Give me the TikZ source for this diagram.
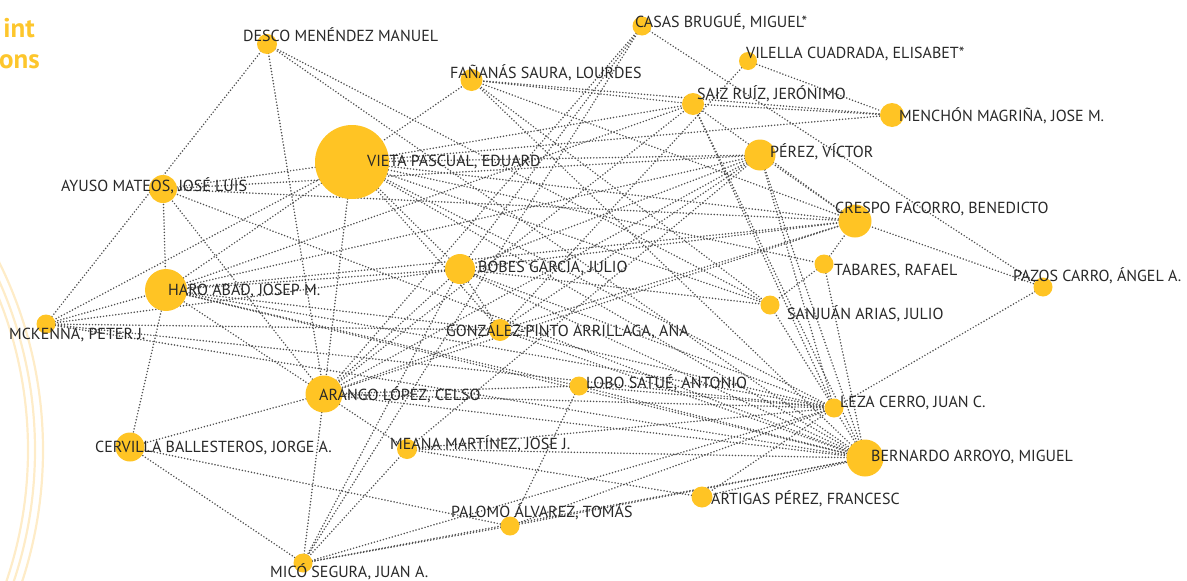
\documentclass[tikz,border=0pt]{standalone}
\usepackage{fontspec}
\setmainfont{PT Sans}
\usetikzlibrary{backgrounds}
\definecolor{nodeyel}{RGB}{255,196,36}
\definecolor{titleyel}{RGB}{253,198,44}
\definecolor{arcyel}{RGB}{254,236,200}
\definecolor{edgegray}{RGB}{78,78,78}
\definecolor{txtgray}{RGB}{40,40,40}
\tikzset{
  dot/.style={circle, fill=nodeyel, draw=none, inner sep=0pt, minimum size=#1},
  lbl/.style={anchor=base west, inner sep=0pt, text=txtgray, font=\fontsize{16}{18}\selectfont},
  edge/.style={edgegray, line width=1.7pt, line cap=round, dash pattern=on 0pt off 3.1pt},
  ttl/.style={anchor=base east, inner sep=0pt, text=titleyel, font=\bfseries\fontsize{27}{29}\selectfont},
  arcline/.style={arcyel, line width=2.2pt}
}
\begin{document}
\begin{tikzpicture}[x=1pt,y=-1pt]
\useasboundingbox (0,0) rectangle (1187,581);
\begin{scope}
\clip (0,0) rectangle (1187,581);
\draw[arcline] (-380,450) circle (423);
\draw[arcline] (-380,450) circle (415);
\draw[arcline] (-380,450) circle (408);
\end{scope}
\node[ttl] (t1) at (35,37) {int};
\node[ttl] (t2) at (40,68) {ons};
% nodes
\node[dot=20pt] (desco) at (267,44) {};
\node[dot=19pt] (casas) at (642,26) {};
\node[dot=18pt] (vilella) at (748,61) {};
\node[dot=22pt] (fananas) at (471.5,80) {};
\node[dot=22pt] (saiz) at (693,104) {};
\node[dot=24pt] (menchon) at (892,115) {};
\node[dot=74pt] (vieta) at (352,162) {};
\node[dot=31pt] (perez) at (760,155) {};
\node[dot=28pt] (ayuso) at (163,189) {};
\node[dot=33pt] (crespo) at (855,221) {};
\node[dot=30pt] (bobes) at (460,269) {};
\node[dot=19pt] (tabares) at (824,264) {};
\node[dot=42pt] (haro) at (166,290) {};
\node[dot=19pt] (pazos) at (1043,287) {};
\node[dot=19pt] (mckenna) at (46,324) {};
\node[dot=19pt] (sanjuan) at (770,305) {};
\node[dot=22pt] (gonzalez) at (500,330) {};
\node[dot=19pt] (lobo) at (579,386) {};
\node[dot=37pt] (arango) at (324,394) {};
\node[dot=19pt] (leza) at (834,408) {};
\node[dot=29pt] (cervilla) at (130,447) {};
\node[dot=20pt] (meana) at (407,449) {};
\node[dot=37pt] (bernardo) at (865,458) {};
\node[dot=21pt] (artigas) at (702,497) {};
\node[dot=19pt] (palomo) at (510,526) {};
\node[dot=19pt] (mico) at (303,563) {};
% edges
\begin{scope}[on background layer]
\foreach \a/\b in {desco/mckenna, desco/arango, desco/sanjuan, desco/bernardo,
casas/pazos, casas/mico, casas/arango, casas/bobes,
vilella/menchon, vilella/gonzalez,
fananas/vieta, fananas/saiz, fananas/crespo, fananas/menchon, fananas/sanjuan, fananas/bernardo,
saiz/vieta, saiz/menchon, saiz/arango, saiz/bernardo, saiz/haro, saiz/crespo, saiz/leza,
menchon/vieta,
vieta/perez, vieta/crespo, vieta/tabares, vieta/sanjuan, vieta/bernardo, vieta/leza, vieta/bobes, vieta/arango, vieta/haro, vieta/ayuso, vieta/mckenna, vieta/gonzalez,
perez/ayuso, perez/haro, perez/bobes, perez/arango, perez/meana, perez/bernardo, perez/crespo, perez/leza,
ayuso/crespo, ayuso/bernardo, ayuso/arango, ayuso/haro,
crespo/pazos, crespo/tabares, crespo/haro, crespo/bobes, crespo/arango,
bobes/sanjuan, bobes/leza, bobes/bernardo, bobes/haro, bobes/arango, bobes/mckenna, bobes/mico, bobes/gonzalez,
tabares/sanjuan, tabares/bernardo,
sanjuan/bernardo,
pazos/leza,
mckenna/haro, mckenna/leza, mckenna/bernardo, mckenna/gonzalez,
gonzalez/arango, gonzalez/haro, gonzalez/bernardo, gonzalez/leza, gonzalez/perez, gonzalez/crespo,
lobo/palomo, lobo/haro, lobo/bernardo, lobo/leza, lobo/arango,
arango/cervilla, arango/meana, arango/leza, arango/bernardo, arango/haro, arango/mico,
cervilla/haro, cervilla/mico, cervilla/palomo,
meana/artigas, meana/mico, meana/bernardo, meana/leza,
artigas/leza, artigas/bernardo,
palomo/leza, palomo/bernardo, palomo/mico,
mico/leza, mico/bernardo,
haro/leza, haro/bernardo}
  \draw[edge] (\a.center) -- (\b.center);
\end{scope}
% labels
\node[lbl] (desco-l) at (243,41) {DESCO MENÉNDEZ MANUEL};
\node[lbl] (casas-l) at (635,27) {CASAS BRUGUÉ, MIGUEL*};
\node[lbl] (vilella-l) at (746,58) {VILELLA CUADRADA, ELISABET*};
\node[lbl] (fananas-l) at (450,78) {FAÑANÁS SAURA, LOURDES};
\node[lbl] (saiz-l) at (697,99) {SAIZ RUÍZ, JERÓNIMO};
\node[lbl] (menchon-l) at (899,121) {MENCHÓN MAGRIÑA, JOSE M.};
\node[lbl] (vieta-l) at (367,166) {VIETA PASCUAL, EDUARD};
\node[lbl] (perez-l) at (770,157) {PÉREZ, VÍCTOR};
\node[lbl] (ayuso-l) at (61,191) {AYUSO MATEOS, JOSÉ LUIS};
\node[lbl] (crespo-l) at (835,213) {CRESPO FACORRO, BENEDICTO};
\node[lbl] (bobes-l) at (478,272) {BOBES GARCÍA, JULIO};
\node[lbl] (tabares-l) at (834,275) {TABARES, RAFAEL};
\node[lbl] (haro-l) at (168,295) {HARO ABAD, JOSEP M.};
\node[lbl] (pazos-l) at (1013,281) {PAZOS CARRO, ÁNGEL A.};
\node[lbl] (mckenna-l) at (9,339) {MCKENNA, PETER J.};
\node[lbl] (sanjuan-l) at (787,319) {SANJUÁN ARIAS, JULIO};
\node[lbl] (gonzalez-l) at (446,336) {GONZÁLEZ-PINTO ARRILLAGA, ANA};
\node[lbl] (lobo-l) at (586,388) {LOBO SATUÉ, ANTONIO};
\node[lbl] (arango-l) at (319,400) {ARANGO LÓPEZ, CELSO};
\node[lbl] (leza-l) at (840,407) {LEZA CERRO, JUAN C.};
\node[lbl] (cervilla-l) at (95,452) {CERVILLA BALLESTEROS, JORGE A.};
\node[lbl] (meana-l) at (390,449) {MEANA MARTÍNEZ, JOSE J.};
\node[lbl] (bernardo-l) at (871,461) {BERNARDO ARROYO, MIGUEL};
\node[lbl] (artigas-l) at (711,504) {ARTIGAS PÉREZ, FRANCESC};
\node[lbl] (palomo-l) at (451,517) {PALOMO ÁLVAREZ, TOMÁS};
\node[lbl] (mico-l) at (270,577) {MICÓ SEGURA, JUAN A.};
\end{tikzpicture}
\end{document}
